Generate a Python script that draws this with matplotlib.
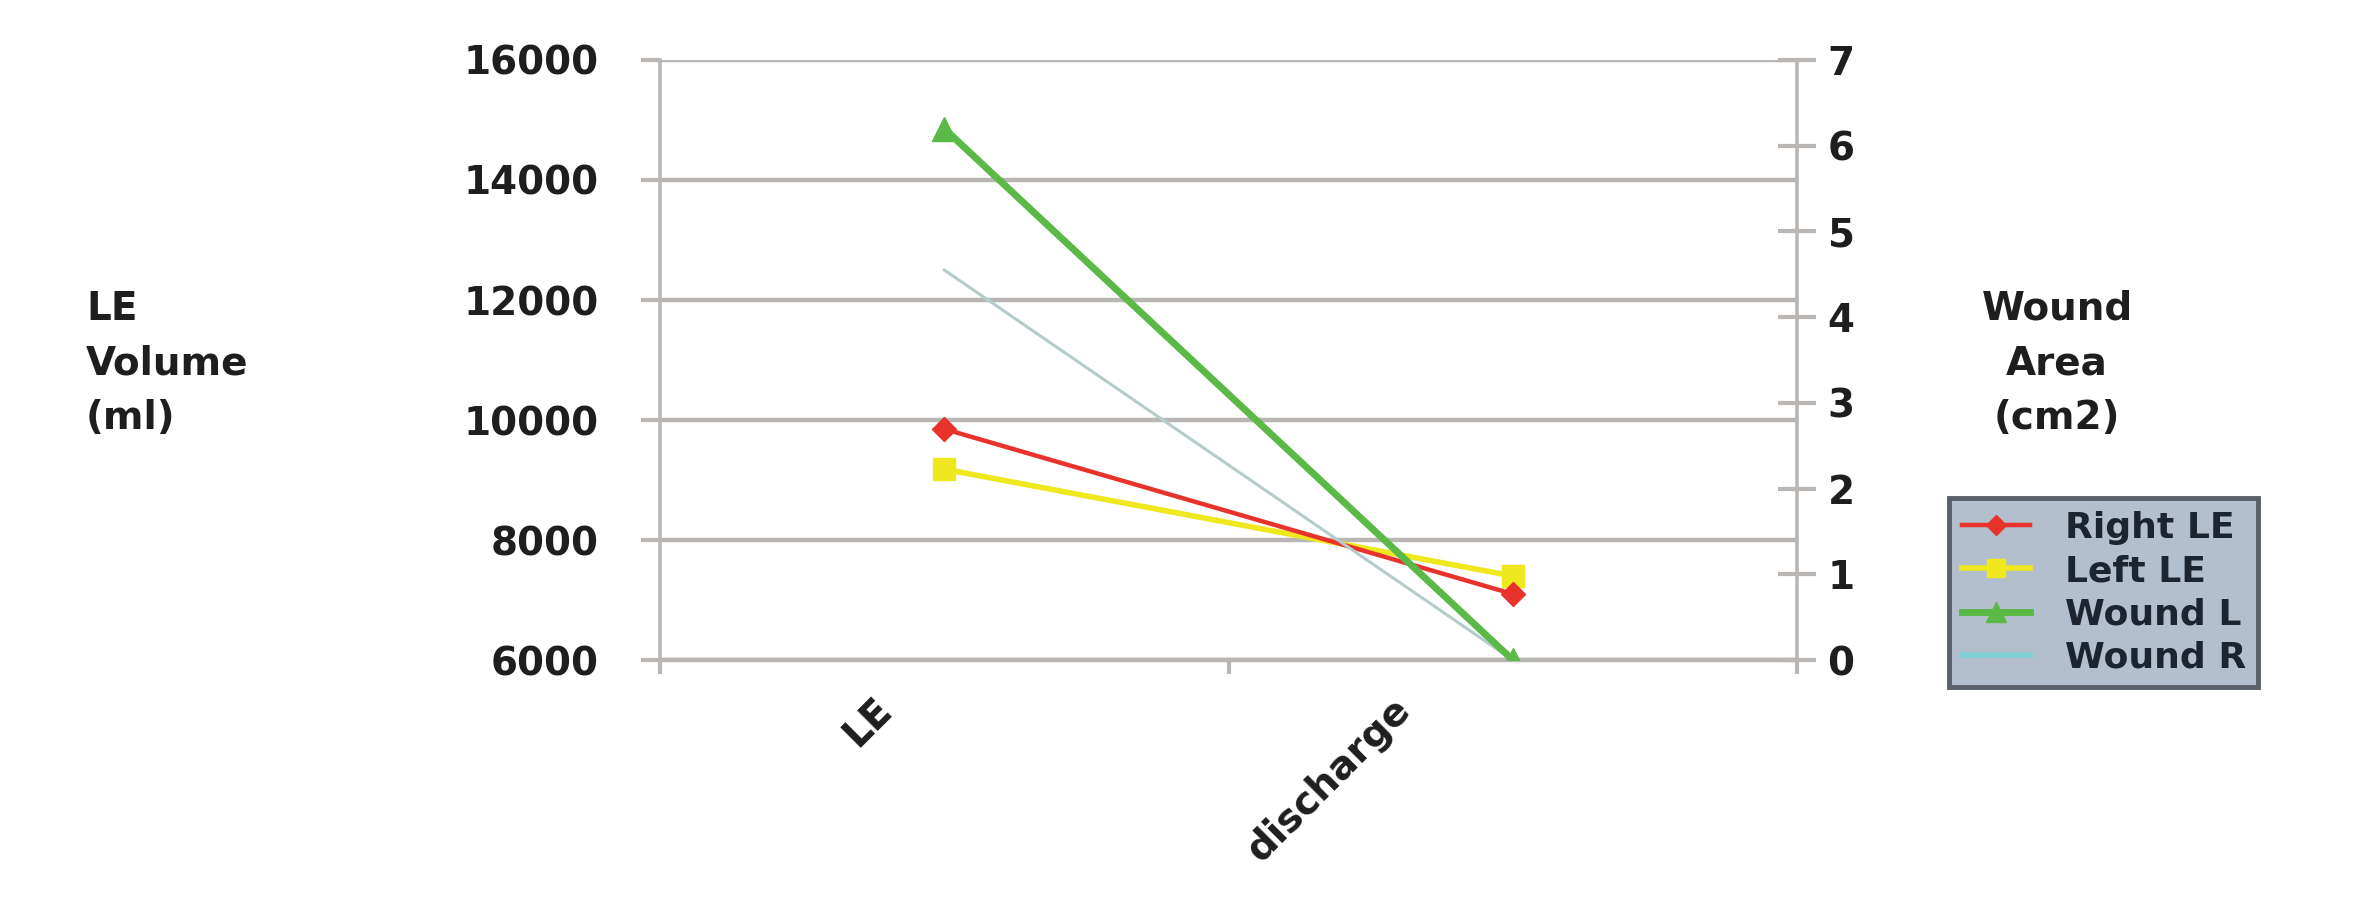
import matplotlib
matplotlib.use("Agg")
import matplotlib.pyplot as plt
import matplotlib.transforms as mtransforms
from matplotlib.lines import Line2D

# --- data -------------------------------------------------------------
categories = ["LE", "discharge"]
right_le = [9850, 7100]      # ml, left axis
left_le = [9180, 7400]       # ml, left axis
wound_l = [6.2, 0.0]         # cm2, right axis
wound_r = [4.55, 0.0]        # cm2, right axis

left_ticks = [6000, 8000, 10000, 12000, 14000, 16000]
right_ticks = [0, 1, 2, 3, 4, 5, 6, 7]

series_names = ["Right LE", "Left LE", "Wound L", "Wound R"]

# --- style ------------------------------------------------------------
plt.rcParams["font.family"] = ["DejaVu Sans"]
TEXT = "#1e1e1e"
GRID = "#b9b6b4"
FS = 28

fig = plt.figure(figsize=(23.54, 8.97), dpi=100)
fig.patch.set_facecolor("white")
ax = fig.add_axes([660 / 2354, 1 - 660 / 897, 1137 / 2354, 600 / 897])
ax2 = ax.twinx()

x = list(range(len(categories)))

ax.plot(x, right_le, color="#e8322c", lw=3.2, marker="D", ms=12,
        mec="#e8322c", mfc="#e8322c", zorder=3)
ax.plot(x, left_le, color="#efe81e", lw=4.0, marker="s", ms=16,
        mec="#efe81e", mfc="#efe81e", zorder=2)
ax2.plot(x, wound_l, color="#5bb947", lw=5.0, marker="^", ms=17,
         mec="#5bb947", mfc="#5bb947", zorder=3)
ax2.plot(x, wound_r, color="#b4cccc", lw=2.2, zorder=2)

# --- left axis --------------------------------------------------------
ax.set_xlim(-0.5, len(categories) - 0.5)
ax.set_ylim(left_ticks[0], left_ticks[-1])
ax.set_yticks(left_ticks)
ax.set_yticklabels([str(v) for v in left_ticks], fontsize=FS,
                   fontweight="bold", color=TEXT)
ax.yaxis.grid(True, color=GRID, lw=3.2)
ax.set_axisbelow(True)
ax.tick_params(axis="y", direction="out", length=14, width=3,
               color=GRID, pad=30)

for side in ("top", "right"):
    ax.spines[side].set_visible(False)
ax.spines["left"].set_color(GRID)
ax.spines["left"].set_linewidth(2.6)
ax.spines["bottom"].set_color(GRID)
ax.spines["bottom"].set_linewidth(3.2)

# category boundaries get the tick marks, centres get the labels
ax.set_xticks([i - 0.5 for i in range(len(categories) + 1)])
ax.set_xticklabels([])
ax.tick_params(axis="x", which="major", direction="out", length=10,
               width=3, color=GRID)
ax.set_xticks(x, minor=True)
ax.set_xticklabels(categories, minor=True, rotation=45,
                   rotation_mode="anchor", ha="right", va="center",
                   fontsize=FS, fontweight="bold", color=TEXT)
ax.tick_params(axis="x", which="minor", length=0, pad=0)

# --- right axis -------------------------------------------------------
ax2.set_ylim(right_ticks[0], right_ticks[-1])
ax2.set_yticks(right_ticks)
ax2.set_yticklabels([str(v) for v in right_ticks], fontsize=FS,
                    fontweight="bold", color=TEXT)
ax2.tick_params(axis="y", direction="inout", length=28, width=3,
                color=GRID, pad=8)
for side in ("top", "left", "bottom"):
    ax2.spines[side].set_visible(False)
ax2.spines["right"].set_color(GRID)
ax2.spines["right"].set_linewidth(2.6)

# --- axis titles ------------------------------------------------------
fig.text(86 / 2354, 0.595, "LE\nVolume\n(ml)", ha="left", va="center",
         fontsize=FS, fontweight="bold", color=TEXT, linespacing=1.55)
fig.text(2057 / 2354, 0.595, "Wound\nArea\n(cm2)", ha="center",
         va="center", fontsize=FS, fontweight="bold", color=TEXT,
         linespacing=1.55)

# --- legend -----------------------------------------------------------
handles = [
    Line2D([], [], color="#e8322c", lw=3.2, marker="D", ms=10),
    Line2D([], [], color="#efe81e", lw=4.0, marker="s", ms=13),
    Line2D([], [], color="#5bb947", lw=5.0, marker="^", ms=14),
    Line2D([], [], color="#7ed2d6", lw=4.0),
]
leg = fig.legend(handles, series_names, loc="upper left",
                 bbox_to_anchor=(1949 / 2354, 1 - 498 / 897),
                 bbox_transform=fig.transFigure, frameon=True,
                 fancybox=False, fontsize=26, handlelength=1.9,
                 handletextpad=0.95, labelspacing=0.26,
                 borderpad=0.35, borderaxespad=0)
for t in leg.get_texts():
    t.set_fontweight("bold")
    t.set_color("#1c2430")
frame = leg.get_frame()
frame.set_facecolor("#b3bfcc")
frame.set_edgecolor("#5a606a")
frame.set_linewidth(3.5)
frame.set_alpha(1)

# Rotated category labels: push each one down-left of its category
# centre, further for longer labels.
fig.canvas.draw()
px = fig.dpi_scale_trans
for lbl in ax.get_xticklabels(minor=True):
    w = lbl.get_window_extent().width
    dx = -(30 + 0.44 * w) / fig.dpi
    dy = -44 / fig.dpi
    lbl.set_transform(lbl.get_transform()
                      + mtransforms.ScaledTranslation(dx, dy, px))

fig.savefig("out.png", dpi=100, facecolor="white")
